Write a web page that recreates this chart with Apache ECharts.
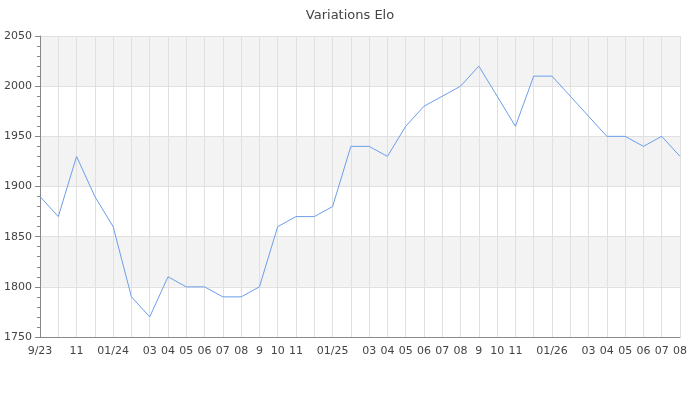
<!DOCTYPE html>
<html>
<head>
<meta charset="utf-8">
<script src="https://cdn.jsdelivr.net/npm/echarts@6/dist/echarts.min.js"></script>
<style>html,body{margin:0;padding:0;background:#fff}#c{width:700px;height:400px}</style>
</head>
<body>
<div id="c"></div>
<script>
var months = ['2023-09','2023-10','2023-11','2023-12','2024-01','2024-02','2024-03','2024-04','2024-05','2024-06','2024-07','2024-08',
  '2024-09','2024-10','2024-11','2024-12','2025-01','2025-02','2025-03','2025-04','2025-05','2025-06','2025-07','2025-08',
  '2025-09','2025-10','2025-11','2025-12','2026-01','2026-02','2026-03','2026-04','2026-05','2026-06','2026-07','2026-08'];
var tickLabels = ['9/23','','11','','01/24','','03','04','05','06','07','08',
  '9','10','11','','01/25','','03','04','05','06','07','08',
  '9','10','11','','01/26','','03','04','05','06','07','08'];
var elo = [1890,1870,1930,1890,1860,1790,1770,1810,1800,1800,1790,1790,
  1800,1860,1870,1870,1880,1940,1940,1930,1960,1980,1990,2000,
  2020,1990,1960,2010,2010,1990,1970,1950,1950,1940,1950,1930];

var chart = echarts.init(document.getElementById('c'), null, {renderer:'canvas'});
chart.setOption({
  animation:false,
  backgroundColor:'#fff',
  textStyle:{fontFamily:'DejaVu Sans'},
  title:{text:'Variations Elo', left:'center', top:4,
    textStyle:{fontFamily:'DejaVu Sans', fontSize:13, fontWeight:'normal', color:'#444'}},
  grid:{left:40, right:20, top:36, bottom:63, containLabel:false},
  xAxis:{
    type:'category', data:months, boundaryGap:false,
    axisLine:{lineStyle:{color:'#888', width:1}},
    axisTick:{show:false},
    axisLabel:{interval:0, color:'#444', fontSize:11, margin:9,
      formatter:function(v,i){return tickLabels[i];}},
    splitLine:{show:true, interval:0, lineStyle:{color:'#e0e0e0', width:1}}
  },
  yAxis:{
    type:'value', min:1750, max:2050, interval:50,
    axisLine:{show:true, lineStyle:{color:'#888', width:1}},
    axisTick:{show:true, length:5, lineStyle:{color:'#888'}},
    minorTick:{show:true, splitNumber:5, length:3, lineStyle:{color:'#888'}},
    axisLabel:{color:'#444', fontSize:11, margin:8, formatter:function(v){return String(v);}},
    splitLine:{show:true, lineStyle:{color:'#e0e0e0', width:1}},
    splitArea:{show:true, areaStyle:{color:['#ffffff','#f3f3f3']}}
  },
  series:[{
    type:'line', data:elo, symbol:'none', smooth:false,
    lineStyle:{color:'#6d9eeb', width:1},
    itemStyle:{color:'#6d9eeb'}
  }]
});
</script>
</body>
</html>
